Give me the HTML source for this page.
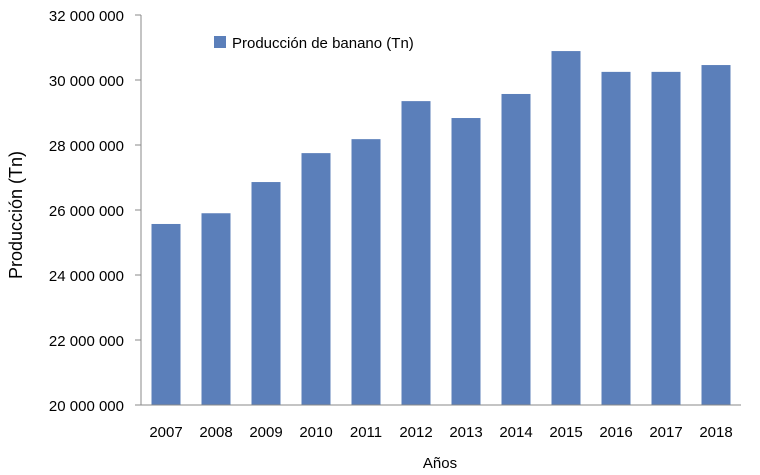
<!DOCTYPE html>
<html><head><meta charset="utf-8"><style>body{margin:0;background:#fff}svg{display:block;font-family:"Liberation Sans",Arial,sans-serif}</style></head>
<body>
<svg id="c" width="760" height="475"></svg>
<script>
const categories=["2007","2008","2009","2010","2011","2012","2013","2014","2015","2016","2017","2018"];
const production=[25570000,25900000,26860000,27750000,28180000,29350000,28830000,29570000,30890000,30250000,30250000,30460000];
const yTicks=[20000000,22000000,24000000,26000000,28000000,30000000,32000000];
const yTickLabels=["20 000 000","22 000 000","24 000 000","26 000 000","28 000 000","30 000 000","32 000 000"];
const NS="http://www.w3.org/2000/svg";
const svg=document.getElementById('c');
const x0=141,x1=741,yMin=20000000,yMax=32000000,py0=405,py1=15;
const y=v=>py0-(v-yMin)/(yMax-yMin)*(py0-py1);
const bw=(x1-x0)/categories.length;
const xc=i=>x0+bw*(i+0.5);
function mk(t,a,txt){const e=document.createElementNS(NS,t);for(const k in a)e.setAttribute(k,a[k]);if(txt!==undefined)e.textContent=txt;svg.appendChild(e);return e;}
yTicks.forEach((v,i)=>{
const t=mk('line',{x1:135,x2:x0,y1:y(v),y2:y(v),stroke:'#888'});


const l=mk('text',{x:124,y:y(v)+6,'text-anchor':'end','font-size':15,fill:'#000'},yTickLabels[i]);


});
production.forEach((v,i)=>{
const b=mk('rect',{x:xc(i)-14.5,y:y(v),width:29,height:py0-y(v),fill:'#5b7fba'});


const l=mk('text',{x:xc(i),y:437,'text-anchor':'middle','font-size':15,fill:'#000'},categories[i]);


});
const ax=mk('line',{x1:x0,x2:x0,y1:py1,y2:py0,stroke:'#888'});


const bx=mk('line',{x1:x0,x2:x1,y1:py0,y2:py0,stroke:'#888'});


const xt=mk('text',{x:440,y:468,'text-anchor':'middle','font-size':15},'Años');


const yt=mk('text',{x:22,y:215,'text-anchor':'middle','font-size':18,transform:'rotate(-90 22 215)'},'Producción (Tn)');


const lk=mk('rect',{x:214,y:36,width:12,height:12,fill:'#5b7fba'});


const lt=mk('text',{x:232,y:48,'font-size':15},'Producción de banano (Tn)');


</script>
</body></html>
